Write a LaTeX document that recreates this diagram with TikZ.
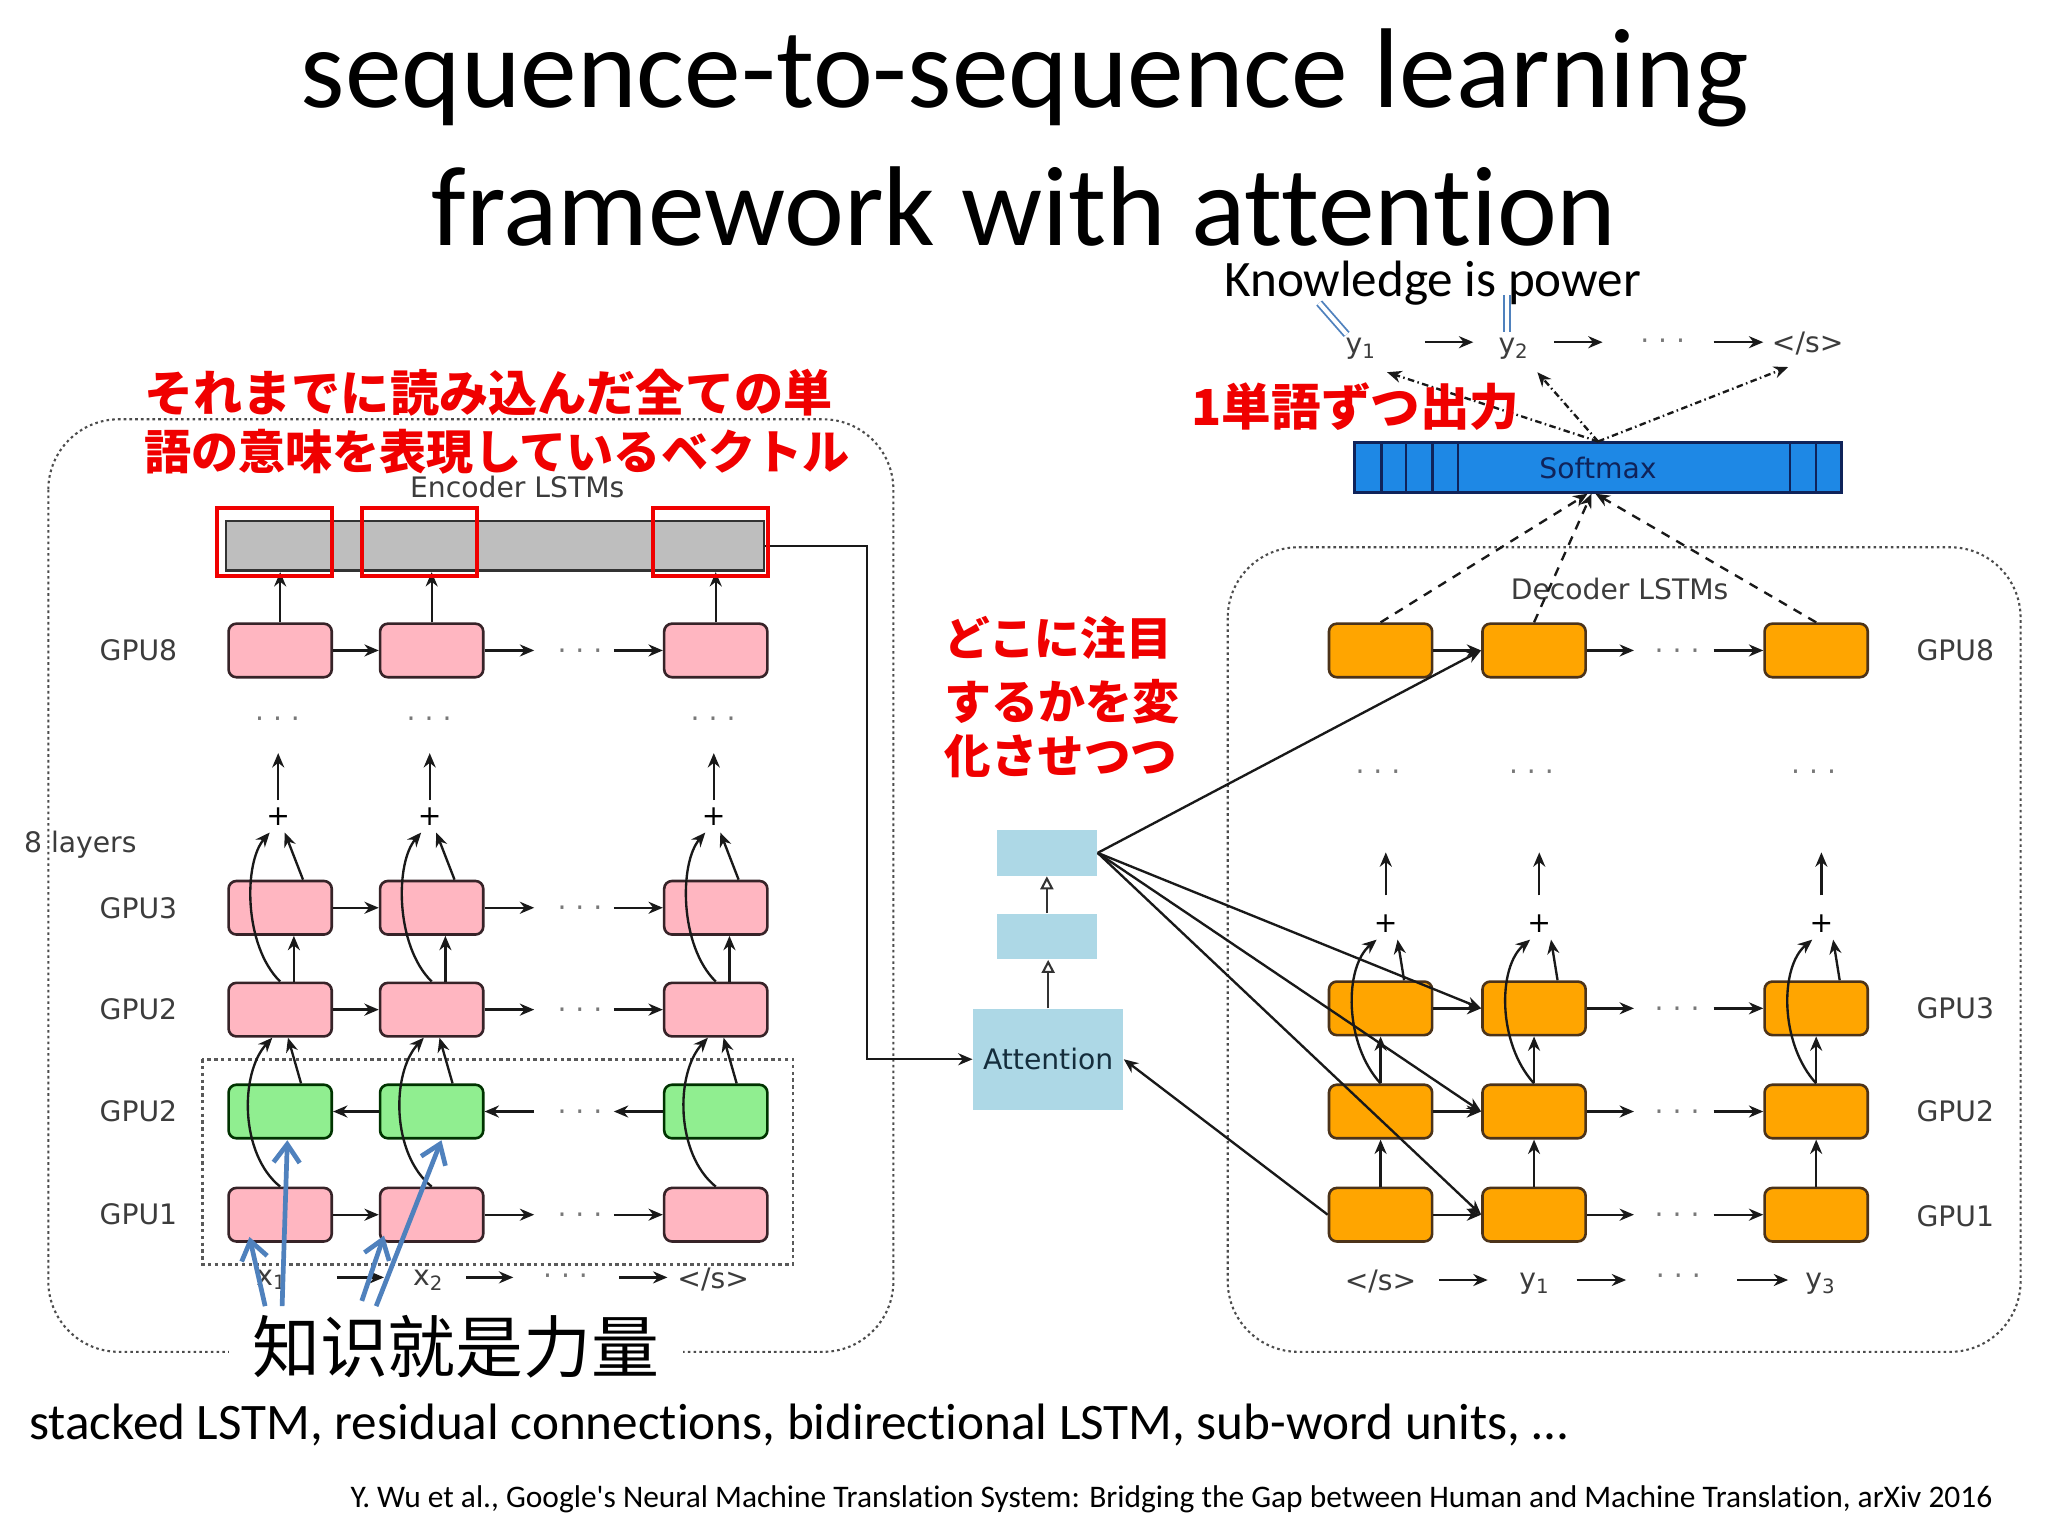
\documentclass[tikz,border=0pt]{standalone}
\usepackage{fontspec}
\usepackage{graphicx}
\usetikzlibrary{arrows.meta,calc}
\setmainfont{DejaVu Sans}
\newfontfamily\calfont{Carlito}[Ligatures=CommonOff]
\newfontfamily\jpfont{Noto Sans CJK JP}
\newfontfamily\scfont{Noto Sans CJK SC}
\definecolor{pinkc}{RGB}{255,182,193}
\definecolor{greenc}{RGB}{144,238,144}
\definecolor{orangec}{RGB}{255,165,0}
\definecolor{barc}{RGB}{190,190,190}
\definecolor{attc}{RGB}{173,216,230}
\definecolor{softc}{RGB}{30,136,229}
\definecolor{navyc}{RGB}{15,35,90}
\definecolor{edgec}{RGB}{55,35,40}
\definecolor{labc}{RGB}{60,60,60}
\definecolor{dotc}{RGB}{120,120,120}
\definecolor{annblue}{RGB}{79,129,189}
\definecolor{jred}{RGB}{240,0,0}
\definecolor{attext}{RGB}{20,45,60}
\begin{document}
\begin{tikzpicture}[x=0.5pt,y=-0.5pt,
  lbox/.style={draw=edgec, line width=1pt, rounded corners=3pt, minimum width=39.5pt, minimum height=20.5pt, inner sep=0pt},
  pinkbox/.style={lbox, fill=pinkc},
  greenbox/.style={lbox, fill=greenc, draw=green!20!black},
  orangebox/.style={lbox, fill=orangec, draw=brown!40!black},
  arr/.style={draw=black!90, line width=0.9pt, -{Stealth[length=5.5pt,width=4.6pt]}},
  lbl/.style={font=\fontsize{10.8}{13}\selectfont, text=labc, inner sep=1pt},
  dts/.style={font=\fontsize{10.8}{13}\selectfont, text=dotc, inner sep=0pt},
  plusn/.style={font=\fontsize{10.8}{13}\selectfont, minimum size=12pt, inner sep=0pt},
  border/.style={draw=black!70, line width=0.8pt, dash pattern=on 1pt off 1.2pt, rounded corners=27pt},
  bidibox/.style={draw=black!65, line width=1pt, dash pattern=on 1.3pt off 1.3pt},
  redbox/.style={draw=jred, line width=1.5pt},
  attbox/.style={fill=attc, inner sep=0pt},
  openarr/.style={draw=black!80, line width=0.8pt, -{Triangle[open,length=5pt,width=5pt]}},
  dasharr/.style={arr, dash pattern=on 3.5pt off 3pt},
  ddarr/.style={arr, dash pattern=on 2.5pt off 1.3pt on 0.6pt off 1.3pt},
  blarr/.style={draw=annblue, line width=1.8pt, -{Straight Barb[length=7pt,width=10pt]}},
  dbl/.style={draw=annblue, double=white, double distance=1.6pt, line width=0.7pt},
]
\fill[white] (0,0) rectangle (1568,1176);
\useasboundingbox (0,0) rectangle (1568,1176);

% titles
\node[anchor=base west, inner sep=0pt] (title1) at (230,82) {\resizebox{554pt}{!}{\calfont sequence-to-sequence learning}};
\node[anchor=base west, inner sep=0pt] (title2) at (330,188) {\resizebox{453.5pt}{!}{\calfont framework with attention}};

% dotted frames
\draw[border] (37,321) rectangle (684,1035);
\draw[border] (940,419) rectangle (1547,1035);
\draw[bidibox] (155,811) rectangle (607,968);

% ---------------- Encoder ----------------
\node[lbl] (enclbl) at (396,373) {Encoder LSTMs};
\node[draw=black!80, line width=1pt, fill=barc, minimum width=206pt, minimum height=19pt, inner sep=0pt] (bar) at (379,418) {};

\node[lbl] (le8) at (106,498) {GPU8};
\node[lbl] (le3) at (106,695) {GPU3};
\node[lbl] (le2) at (106,773) {GPU2};
\node[lbl] (leg) at (106,851) {GPU2};
\node[lbl] (le1) at (106,930) {GPU1};
\node[lbl] (layers) at (61.5,647) {8 layers};

\foreach \c/\n in {214.5/a,330.5/b,548/c}{
  \node[pinkbox] (e8\n) at (\c,498) {};
  \node[pinkbox] (e3\n) at (\c,695) {};
  \node[pinkbox] (e2\n) at (\c,773) {};
  \node[greenbox] (eg\n) at (\c,851) {};
  \node[pinkbox] (e1\n) at (\c,930) {};
  \node[dts] (ed\n) at ({\c-2},553) {· · ·};
  \node[plusn] (ep\n) at ({\c-1.5},625) {+};
}
\foreach \n in {a,b,c}{
  \draw[arr] (e8\n.north) -- (e8\n.north |- bar.south);
  \draw[arr] (ep\n.north) -- ++(0,-36);
  \draw[arr] (e2\n.north) .. controls +(-28,-27.5) and +(-20,23) .. ([xshift=-3.25pt]ep\n.south);
  \draw[arr] ([xshift=8.75pt]e3\n.north) -- ([xshift=2.5pt]ep\n.south);
  \draw[arr] ([xshift=5.25pt]e2\n.north) -- ([xshift=5.25pt]e3\n.south);
  \draw[arr] (e1\n.north) .. controls +(-31,-25) and +(-25,27) .. ([xshift=-3pt]e2\n.south);
  \draw[arr] ([xshift=8pt]eg\n.north) -- ([xshift=3pt]e2\n.south);
}
\foreach \y/\A/\B/\C in {498/e8a/e8b/e8c, 695/e3a/e3b/e3c, 773/e2a/e2b/e2c, 930/e1a/e1b/e1c}{
  \draw[arr] (\A.east) -- (\B.west);
  \coordinate (er\y) at (409,\y);
  \coordinate (el\y) at (470,\y);
  \draw[arr] (\B.east) -- (er\y);
  \node[dts] (erd\y) at (444,\y+3) {· · ·};
  \draw[arr] (el\y) -- (\C.west);
}
\coordinate (gr) at (409,851);
\coordinate (gl) at (470,851);
\draw[arr] (egb.west) -- (ega.east);
\draw[arr] (gr) -- (egb.east);
\node[dts] (egd) at (444,854) {· · ·};
\draw[arr] (egc.west) -- (gl);

% encoder inputs
\node[lbl] (x1) at (208,980) {x\textsubscript{1}};
\node[lbl] (x2) at (328,980) {x\textsubscript{2}};
\node[dts] (xd) at (433,980) {· · ·};
\node[lbl] (xe) at (546,980) {</s>};
\coordinate (xa1) at (258,978); \coordinate (xb1) at (294,978);
\coordinate (xa2) at (357,978); \coordinate (xb2) at (393,978);
\coordinate (xa3) at (474,978); \coordinate (xb3) at (511,978);
\draw[arr] (xa1) -- (xb1);
\draw[arr] (xa2) -- (xb2);
\draw[arr] (xa3) -- (xb3);

% ---------------- Decoder ----------------
\node[lbl] (declbl) at (1240,451) {Decoder LSTMs};
\node[lbl] (ld8) at (1497,498) {GPU8};
\node[lbl] (ld3) at (1497,772) {GPU3};
\node[lbl] (ld2) at (1497,851) {GPU2};
\node[lbl] (ld1) at (1497,931) {GPU1};

\foreach \c/\n in {1057/a,1174.5/b,1390.5/c}{
  \node[orangebox] (d8\n) at (\c,498) {};
  \node[orangebox] (d3\n) at (\c,772) {};
  \node[orangebox] (d2\n) at (\c,851) {};
  \node[orangebox] (d1\n) at (\c,930) {};
  \node[dts] (dd\n) at ({\c-2},594) {· · ·};
  \node[plusn] (dp\n) at ({\c+4},707) {+};
}
\foreach \n in {a,b,c}{
  \draw[arr] (d1\n.north) -- (d2\n.south);
  \draw[arr] (d2\n.north) -- (d3\n.south);
  \draw[arr] ([yshift=4.5pt]dp\n.north) -- ++(0,-33);
  \draw[arr] (d2\n.north) .. controls +(-28,-30.5) and +(-25,21) .. ([xshift=-3.5pt]dp\n.south);
  \draw[arr] ([xshift=9pt]d3\n.north) -- ([xshift=4.5pt]dp\n.south);
}
\foreach \y/\A/\B/\C in {498/d8a/d8b/d8c, 772/d3a/d3b/d3c, 851/d2a/d2b/d2c, 930/d1a/d1b/d1c}{
  \draw[arr] (\A.east) -- (\B.west);
  \coordinate (dr\y) at (1251,\y);
  \coordinate (dl\y) at (1312,\y);
  \draw[arr] (\B.east) -- (dr\y);
  \node[dts] (ddr\y) at (1284,\y+3) {· · ·};
  \draw[arr] (dl\y) -- (\C.west);
}

% decoder inputs
\node[lbl] (deos) at (1057,981) {</s>};
\node[lbl] (dy1) at (1175,983) {y\textsubscript{1}};
\node[dts] (ddb) at (1285,980) {· · ·};
\node[lbl] (dy3) at (1394,983) {y\textsubscript{3}};
\coordinate (ya1) at (1102,980); \coordinate (yb1) at (1139,980);
\coordinate (ya2) at (1207,980); \coordinate (yb2) at (1245,980);
\coordinate (ya3) at (1330,980); \coordinate (yb3) at (1369,980);
\draw[arr] (ya1) -- (yb1);
\draw[arr] (ya2) -- (yb2);
\draw[arr] (ya3) -- (yb3);

% ---------------- Softmax & outputs ----------------
\node[draw=navyc, line width=1pt, fill=softc, minimum width=186.5pt, minimum height=19pt, inner sep=0pt, text=navyc, font=\fontsize{10.8}{13}\selectfont] (soft) at (1223.5,358) {Softmax};
\foreach \xx in {1057.6,1076.5,1096.7,1116.4,1370.6,1390.5}{
  \draw[navyc, line width=0.9pt] (\xx,339) -- (\xx,377);
}
\node[lbl] (oy1) at (1042,267) {y\textsubscript{1}};
\node[lbl] (oy2) at (1159,267) {y\textsubscript{2}};
\node[dts] (od) at (1273,264) {· · ·};
\node[lbl] (oeos) at (1384,263) {</s>};
\coordinate (oa1) at (1091,262); \coordinate (ob1) at (1128,262);
\coordinate (oa2) at (1190,262); \coordinate (ob2) at (1227,262);
\coordinate (oa3) at (1312,262); \coordinate (ob3) at (1350,262);
\draw[arr] (oa1) -- (ob1);
\draw[arr] (oa2) -- (ob2);
\draw[arr] (oa3) -- (ob3);
\coordinate (t1) at (1062,285);
\coordinate (t2) at (1177,285);
\coordinate (t3) at (1369,281);
\draw[ddarr] (soft.north) -- (t1);
\draw[ddarr] (soft.north) -- (t2);
\draw[ddarr] (soft.north) -- (t3);
\draw[dasharr] (d8a.north) -- ([xshift=-4pt]soft.south);
\draw[dasharr] (d8b.north) -- ([xshift=-2.5pt]soft.south);
\draw[dasharr] (d8c.north) -- ([xshift=-1pt]soft.south);

% ---------------- Attention ----------------
\node[attbox, minimum width=57.5pt, minimum height=38.5pt, text=attext, font=\fontsize{10.8}{13}\selectfont] (att) at (802.5,811) {Attention};
\node[attbox, minimum width=38.5pt, minimum height=17.5pt] (att2) at (801.5,717) {};
\node[attbox, minimum width=38.5pt, minimum height=17.5pt] (att3) at (801.5,653) {};
\draw[openarr] (att.north) -- (att.north |- att2.south);
\draw[openarr] (att2.north) -- (att3.south);
\draw[arr] (att3.east) -- (d8b.west);
\draw[arr] (att3.east) -- (d3b.west);
\draw[arr] (att3.east) -- (d2b.west);
\draw[arr] (att3.east) -- (d1b.west);
\draw[arr] (d1a.west) -- (att.east);
\coordinate (turn) at (664,418);
\draw[arr] (bar.east) -- (turn) |- (att.west);

% ---------------- Annotations ----------------
\draw[redbox] (166,389) rectangle (254,441);
\draw[redbox] (277,389) rectangle (365,441);
\draw[redbox] (500,389) rectangle (588,441);

\node[anchor=west, inner sep=0pt, text=jred] (jp1) at (110,301) {\resizebox{263.5pt}{!}{\jpfont\bfseries それまでに読み込んだ全ての単}};
\node[anchor=west, inner sep=0pt, text=jred] (jp2) at (110,346) {\resizebox{270pt}{!}{\jpfont\bfseries 語の意味を表現しているベクトル}};
\node[anchor=west, inner sep=0pt, text=jred] (jp3) at (912,311) {\resizebox{125.5pt}{!}{\jpfont\bfseries 1単語ずつ出力}};
\node[anchor=west, inner sep=0pt, text=jred] (jp4) at (723,488) {\resizebox{87pt}{!}{\jpfont\bfseries どこに注目}};
\node[anchor=west, inner sep=0pt, text=jred] (jp5) at (723,537) {\resizebox{90pt}{!}{\jpfont\bfseries するかを変}};
\node[anchor=west, inner sep=0pt, text=jred] (jp6) at (723,579) {\resizebox{89pt}{!}{\jpfont\bfseries 化させつつ}};

\node[anchor=base west, inner sep=0pt] (know) at (937,227) {\resizebox{159.5pt}{!}{\calfont Knowledge is power}};
\draw[dbl] (1010,232) -- (1031,256);
\draw[dbl] (1154,226) -- (1154,254);

\node[fill=white, inner xsep=9pt, inner ysep=1pt] (zh) at (349,1031) {\resizebox{156pt}{!}{\scfont 知识就是力量}};
\coordinate (b1s) at (203,1000); \coordinate (b1e) at (191,947);
\coordinate (b2s) at (216,1000); \coordinate (b2e) at (220,873);
\coordinate (b3s) at (277,996);  \coordinate (b3e) at (294,946);
\coordinate (b4s) at (288,1000); \coordinate (b4e) at (338,873);
\draw[blarr] (b1s) -- (b1e);
\draw[blarr] (b2s) -- (b2e);
\draw[blarr] (b3s) -- (b3e);
\draw[blarr] (b4s) -- (b4e);

\node[anchor=base west, inner sep=0pt] (sub) at (22,1102) {\resizebox{589pt}{!}{\calfont stacked LSTM, residual connections, bidirectional LSTM, sub-word units, …}};
\node[anchor=base west, inner sep=0pt] (ref) at (268,1154) {\resizebox{628.5pt}{!}{\calfont Y. Wu et al., Google's Neural Machine Translation System: Bridging the Gap between Human and Machine Translation, arXiv 2016}};
\end{tikzpicture}
\end{document}
